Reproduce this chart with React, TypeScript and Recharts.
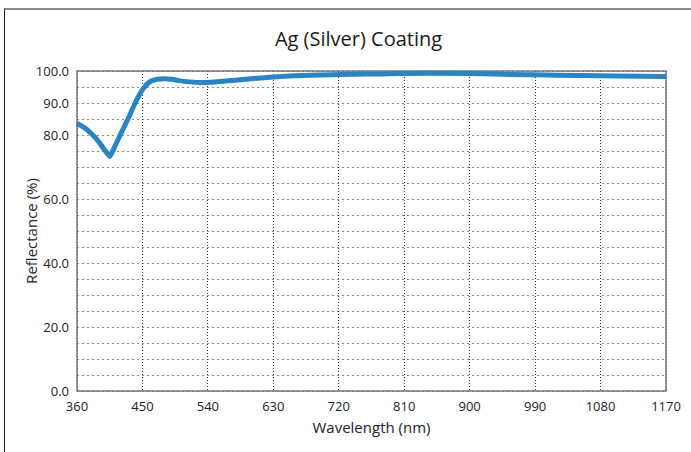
import React from 'react';
import {
  LineChart,
  Line,
  XAxis,
  YAxis,
  CartesianGrid,
  ReferenceArea,
} from 'recharts';

// Wavelength (nm) and reflectance (%)
const wavelengths = [
  360, 370, 380, 390, 398, 403, 405, 407, 412, 420, 430, 440, 450, 460, 470,
  480, 490, 500, 515, 530, 545, 560, 600, 630, 660, 720, 780, 840, 900, 960,
  1020, 1080, 1170,
];
const reflectance = [
  83.6, 82.3, 80.4, 77.9, 75.3, 73.9, 73.3, 74.0, 76.4, 80.3, 85.0, 90.0,
  94.2, 96.6, 97.4, 97.6, 97.4, 97.0, 96.6, 96.4, 96.5, 96.8, 97.6, 98.1,
  98.5, 98.9, 99.1, 99.3, 99.2, 98.9, 98.7, 98.5, 98.3,
];

const xTicks = [360, 450, 540, 630, 720, 810, 900, 990, 1080, 1170];
const yTicks = [
  0, 5, 10, 15, 20, 25, 30, 35, 40, 45, 50, 55, 60, 65, 70, 75, 80, 85, 90, 95, 100,
];
const yLabels = [0, 20, 40, 60, 80, 90, 100];

const data = wavelengths.map((w, i) => ({ w, r: reflectance[i] }));

const font = '"Open Sans", "Noto Sans", sans-serif';

const gridLine = (color: string, dash: string) => (p: any) => (
  <line
    key={p.key}
    x1={p.x1}
    y1={p.y1}
    x2={p.x2}
    y2={p.y2}
    stroke={color}
    strokeWidth={1}
    strokeDasharray={dash}
    shapeRendering="crispEdges"
  />
);

const App: React.FC = () => {
  return (
    <div
      style={{
        position: 'absolute',
        left: 0,
        top: 0,
        width: 691,
        height: 452,
        background: '#fff',
        fontFamily: font,
        overflow: 'hidden',
      }}
    >
      <div
        style={{
          position: 'absolute',
          left: 4,
          top: 8,
          width: 700,
          height: 460,
          borderTop: '2px solid #8a8a8a',
          borderLeft: '1px solid #1a1a1a',
        }}
      />
      <div
        style={{
          position: 'absolute',
          left: 0,
          top: 25,
          width: 717,
          textAlign: 'center',
          fontSize: 20,
          color: '#1a1a1a',
        }}
      >
        Ag (Silver) Coating
      </div>
      <div style={{ position: 'absolute', left: 0, top: 0 }}>
        <LineChart
          width={691}
          height={452}
          data={data}
          margin={{ top: 71, right: 25, left: 0, bottom: 0 }}
        >
          <CartesianGrid
            vertical={false}
            horizontal={gridLine('#8a8a8a', '2 3')}
          />
          <CartesianGrid
            horizontal={false}
            vertical={gridLine('#333', '1 2')}
          />
          <XAxis
            dataKey="w"
            type="number"
            domain={[360, 1170]}
            ticks={xTicks}
            height={61}
            axisLine={false}
            tickLine={false}
            tick={{ fill: '#222', fontSize: 13, fontFamily: font }}
            tickMargin={5}
            label={{
              value: 'Wavelength (nm)',
              position: 'insideBottom',
              offset: 19,
              fill: '#222',
              fontSize: 15,
              fontFamily: font,
            }}
          />
          <YAxis
            type="number"
            domain={[0, 100]}
            ticks={yTicks}
            width={77}
            axisLine={false}
            tickLine={false}
            interval={0}
            tickFormatter={(v: number) => (yLabels.includes(v) ? v.toFixed(1) : '')}
            tick={{ fill: '#222', fontSize: 13, fontFamily: font }}
            label={{
              value: 'Reflectance (%)',
              angle: -90,
              position: 'insideLeft',
              offset: 32,
              fill: '#222',
              fontSize: 15,
              fontFamily: font,
              style: { textAnchor: 'middle' },
            }}
          />
          <ReferenceArea
            x1={360}
            x2={1170}
            y1={0}
            y2={100}
            fill="none"
            stroke="#777"
            strokeWidth={1.5}
            ifOverflow="visible"
          />
          <Line
            type="monotone"
            dataKey="r"
            stroke="#2a84c3"
            strokeWidth={5}
            dot={false}
            isAnimationActive={false}
          />
        </LineChart>
      </div>
    </div>
  );
};

export default App;
